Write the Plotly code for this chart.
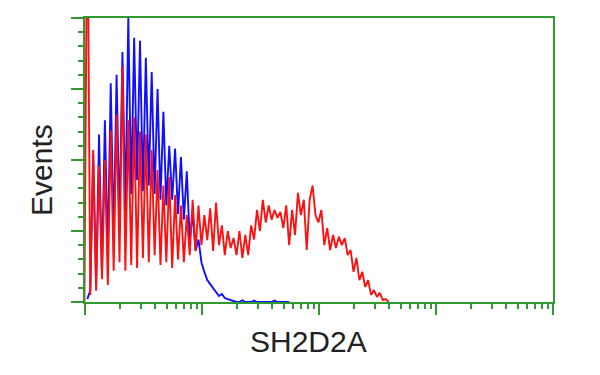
import plotly.graph_objects as go

# Histogram channels (log10 of fluorescence), step 0.025 decade
BIN_START = 0.02
BIN_STEP = 0.025

# Blue (control) histogram counts (% of max), one value per channel
blue_counts = [1, 4, 52, 6, 59, 10, 64, 17, 77, 22,
               80, 27, 88, 32, 100, 38, 93, 43, 92, 39,
               86, 41, 81, 38, 75, 36, 67, 34, 55, 36,
               54, 31, 51, 29, 46, 22, 31, 18, 22, 14,
               10.6, 7.7, 6.3, 4.9, 3.9, 2.1, 2.8, 1.4, 1.0, 0.7,
               0.4, 0, 0, 0.6, 0, 0, 0, 0.5, 0, 0,
               0, 0, 0, 0, 0.5, 0, 0, 0, 0, 0]

# Red (SH2D2A) histogram counts, first channel starts just left of the axis
red_counts = [0, 150, 2.5, 53.5, 4, 48, 8, 50, 6, 60.5,
              11, 66, 14, 83, 11, 64, 13, 65, 12, 60,
              15.5, 59, 14, 53.5, 16.5, 46.5, 13, 41, 14, 44,
              12, 37.7, 15, 34, 14, 30.6, 16.5, 36, 18, 34,
              20, 30.6, 21.8, 33, 18, 35, 20, 27, 16.5, 25,
              19, 22.5, 16.5, 25, 15.5, 23.6, 16.5, 27, 22, 32.4,
              25, 36, 28, 34, 29, 32.4, 29.6, 31.7, 26, 34,
              20, 32.4, 23.6, 38.4, 30.6, 36, 18.3, 36, 41, 30.6,
              28, 32.4, 20, 26, 18.3, 23.6, 19, 23, 20, 22.5,
              16.5, 18.3, 10.6, 15.5, 7.7, 10.6, 5.3, 7.7, 2.5, 4.2,
              1.8, 3.2, 0.7, 1.0, 0]

blue_x = [10 ** (BIN_START + BIN_STEP * i) for i in range(len(blue_counts))]
red_x = [10 ** (BIN_START + BIN_STEP * (i - 1)) for i in range(len(red_counts))]

major_x = [1, 10, 100, 1000, 10000]
minor_x = [m * d for d in [1, 10, 100, 1000] for m in range(2, 10)]

GREEN = "#2f9a2f"

fig = go.Figure()
fig.add_trace(go.Scatter(x=blue_x, y=blue_counts, mode="lines",
                         line=dict(color="#1010ff", width=1.9),
                         showlegend=False))
fig.add_trace(go.Scatter(x=red_x, y=red_counts, mode="lines",
                         line=dict(color="#ff1010", width=1.9),
                         showlegend=False))

fig.update_layout(
    width=600, height=375,
    margin=dict(l=85, r=47, t=18, b=73),
    paper_bgcolor="white", plot_bgcolor="white",
    font=dict(family="Liberation Sans, Arial, sans-serif", color="#222"),
    xaxis=dict(type="log", range=[0, 4], showgrid=False, zeroline=False,
               showline=True, linecolor=GREEN, linewidth=2, mirror=True,
               tickmode="array", tickvals=major_x, showticklabels=False,
               ticks="outside", ticklen=11, tickwidth=1.5, tickcolor=GREEN,
               minor=dict(tickmode="array", tickvals=minor_x, ticks="outside",
                          ticklen=5, tickwidth=1.5, tickcolor=GREEN, showgrid=False)),
    yaxis=dict(range=[0, 100], showgrid=False, zeroline=False,
               showline=True, linecolor=GREEN, linewidth=2, mirror=True,
               tickmode="array", tickvals=[0, 25, 50, 75, 100], showticklabels=False,
               ticks="outside", ticklen=12, tickwidth=1.5, tickcolor=GREEN,
               minor=dict(dtick=5, ticks="outside", ticklen=5, tickwidth=1.5,
                          tickcolor=GREEN, showgrid=False)),
    annotations=[
        dict(text="Events", xref="paper", yref="paper", x=-0.0919, y=0.465,
             xanchor="center", yanchor="middle", textangle=-90, showarrow=False,
             font=dict(size=30, color="#222")),
        dict(text="SH2D2A", xref="paper", yref="paper", x=0.478, y=-0.14,
             xanchor="center", yanchor="middle", showarrow=False,
             font=dict(size=30, color="#222")),
    ],
)

fig.write_html("out.html")
